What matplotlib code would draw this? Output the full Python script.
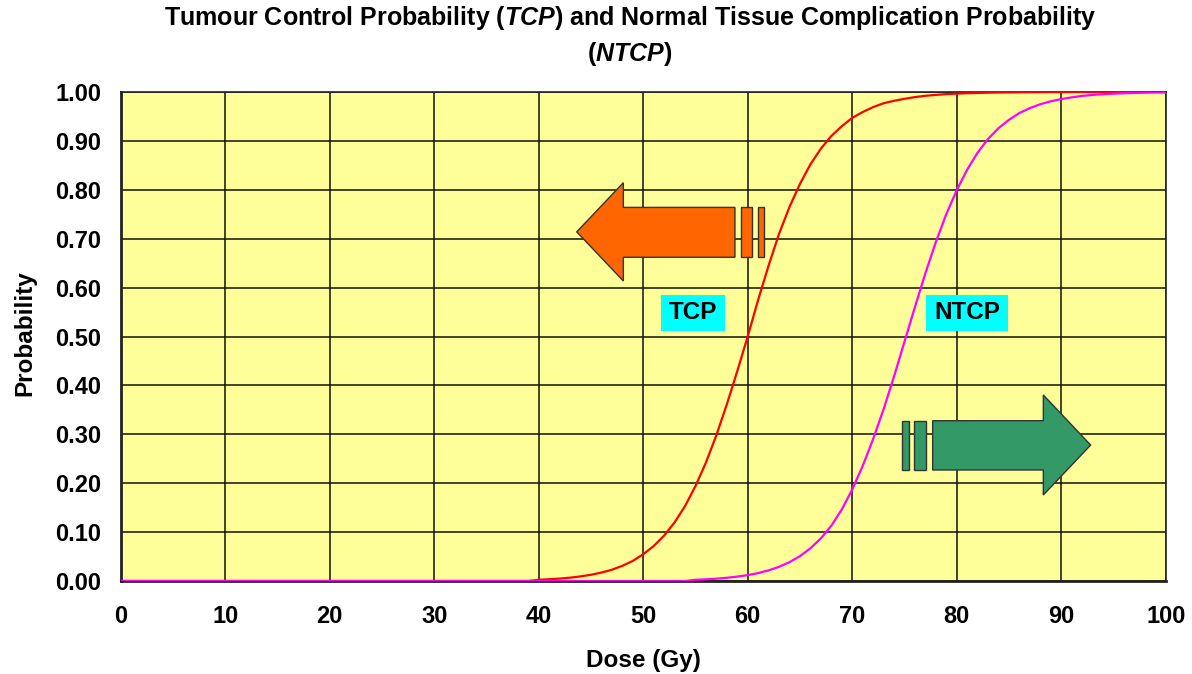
import matplotlib
matplotlib.use("Agg")
import matplotlib.pyplot as plt
from matplotlib.patches import Polygon, Rectangle

plt.rcParams['font.family'] = ['Liberation Sans', 'DejaVu Sans']
plt.rcParams['mathtext.fontset'] = 'custom'
plt.rcParams['mathtext.it'] = 'Liberation Sans:italic:bold'
plt.rcParams['mathtext.rm'] = 'Liberation Sans:bold'

# ---------------- data ----------------
dose = list(range(0, 101))

tcp_tail = [0.0] * 40  # doses 0..39
tcp_main = [0.0025, 0.0035, 0.0049, 0.0068, 0.0094, 0.0127, 0.0172, 0.023, 0.031, 0.041,
            0.0547, 0.0714, 0.0928, 0.1197, 0.153, 0.194, 0.242, 0.298, 0.361, 0.429,
            0.500, 0.575, 0.645, 0.710, 0.765, 0.812, 0.852, 0.884, 0.910, 0.930,
            0.947, 0.959, 0.969, 0.977, 0.982, 0.986, 0.9896, 0.9922, 0.9941, 0.9956,
            0.9967, 0.9975, 0.9981, 0.9986, 0.9990, 0.9992, 0.9994, 0.9996, 0.9997, 0.9998,
            0.9998, 0.9999, 0.9999, 0.9999, 0.9999, 1.0, 1.0, 1.0, 1.0, 1.0, 1.0]
tcp = tcp_tail + tcp_main

ntcp_tail = [0.0] * 55  # doses 0..54
ntcp_main = [0.0025, 0.0034, 0.0047, 0.0066, 0.0090, 0.012, 0.0162, 0.0217, 0.029, 0.0385,
             0.0508, 0.0668, 0.0871, 0.1129, 0.146, 0.187, 0.235, 0.290, 0.351, 0.418,
             0.489, 0.560, 0.629, 0.693, 0.750, 0.799, 0.841, 0.876, 0.904, 0.926,
             0.943, 0.957, 0.967, 0.975, 0.981, 0.9855, 0.989, 0.992, 0.994, 0.9955,
             0.9966, 0.9975, 0.998, 0.9986, 0.999, 0.9992]
ntcp = ntcp_tail + ntcp_main

x_ticks = [0, 10, 20, 30, 40, 50, 60, 70, 80, 90, 100]
y_ticks = [0.0, 0.1, 0.2, 0.3, 0.4, 0.5, 0.6, 0.7, 0.8, 0.9, 1.0]
y_tick_labels = ["%.2f" % v for v in y_ticks]

title_text = (r"Tumour Control Probability ($\mathit{TCP}$) and Normal Tissue Complication Probability"
              "\n" r"($\mathit{NTCP}$)")

# ---------------- figure ----------------
W, H = 1192, 674
fig = plt.figure(figsize=(W / 100, H / 100), dpi=100)
fig.patch.set_facecolor('white')
ax = fig.add_axes([120.7 / W, 1 - 581 / H, 1045 / W, 489 / H])
ax.set_facecolor('#FFFF99')

ax.plot(dose, tcp, color='#FF0000', lw=1.6, zorder=3, solid_joinstyle='round')
ax.plot(dose, ntcp, color='#FF00FF', lw=1.6, zorder=3.1, solid_joinstyle='round')

ax.set_xlim(0, 100)
ax.set_ylim(0, 1.0)
ax.set_xticks(x_ticks)
ax.set_yticks(y_ticks)
ax.set_yticklabels(y_tick_labels)
ax.grid(True, color='#111111', lw=1.1, zorder=1)
ax.set_axisbelow(True)
for s in ax.spines.values():
    s.set_color('#222222')
    s.set_linewidth(1.2)
ax.spines['left'].set_linewidth(2.0)
ax.spines['bottom'].set_linewidth(2.0)
ax.tick_params(axis='both', length=0, labelsize=17)
ax.tick_params(axis='y', pad=14)
ax.tick_params(axis='x', pad=17)
for lab in ax.get_xticklabels() + ax.get_yticklabels():
    lab.set_fontweight('bold')

fig.text(630 / W, 1 - 36 / H, title_text, ha='center', va='center', fontsize=18,
         fontweight='bold', linespacing=1.35)
fig.text(643 / W, 1 - 660 / H, "Dose (Gy)", ha='center', va='center', fontsize=17.5,
         fontweight='bold')
fig.text(25 / W, 1 - 333 / H, "Probability", ha='center', va='center', fontsize=17.5,
         fontweight='bold', rotation=90)

# ---------------- arrows (decorations, data coords) ----------------
orange = '#FF6600'
green = '#339966'
edge = '#333333'
orange_pts = [(43.64, 0.714), (48.1, 0.8145), (48.1, 0.764), (58.78, 0.764),
              (58.78, 0.662), (48.1, 0.662), (48.1, 0.6135)]
ax.add_patch(Polygon(orange_pts, closed=True, fc=orange, ec=edge, lw=1.0, zorder=4))
ax.add_patch(Rectangle((59.35, 0.662), 1.09, 0.102, fc=orange, ec=edge, lw=1.0, zorder=4))
ax.add_patch(Rectangle((61.01, 0.662), 0.58, 0.102, fc=orange, ec=edge, lw=1.0, zorder=4))

green_pts = [(92.82, 0.278), (88.29, 0.3804), (88.29, 0.3278), (77.70, 0.3278),
             (77.70, 0.227), (88.29, 0.227), (88.29, 0.1759)]
ax.add_patch(Polygon(green_pts, closed=True, fc=green, ec=edge, lw=1.0, zorder=4))
ax.add_patch(Rectangle((75.89, 0.227), 1.17, 0.1008, fc=green, ec=edge, lw=1.0, zorder=4))
ax.add_patch(Rectangle((74.79, 0.227), 0.64, 0.1008, fc=green, ec=edge, lw=1.0, zorder=4))

# ---------------- labels ----------------
ax.add_patch(Rectangle((51.67, 0.5117), 6.16, 0.0736, fc='#00FFFF', ec='none', zorder=4))
ax.text(54.75, 0.5485, "TCP", ha='center', va='center', fontsize=17.5, fontweight='bold',
        zorder=5)
ax.add_patch(Rectangle((77.03, 0.5117), 7.9, 0.0736, fc='#00FFFF', ec='none', zorder=4))
ax.text(80.98, 0.5485, "NTCP", ha='center', va='center', fontsize=17.5, fontweight='bold',
        zorder=5)

fig.savefig("out.png", dpi=100)
